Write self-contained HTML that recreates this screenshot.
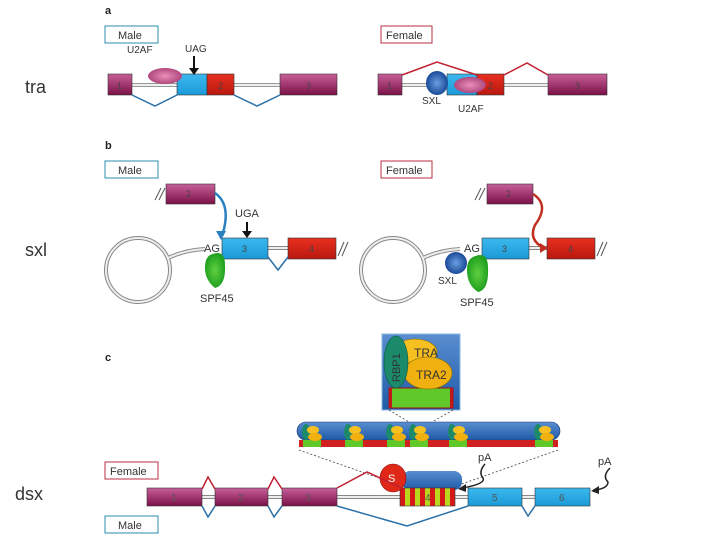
<!DOCTYPE html>
<html><head><style>body{margin:0;background:#fff}svg{display:block;font-family:"Liberation Sans",sans-serif}</style></head><body>
<svg width="720" height="540" viewBox="0 0 720 540">
<defs>
<linearGradient id="pu" x1="0" y1="0" x2="0" y2="1"><stop offset="0" stop-color="#c8609a"/><stop offset="1" stop-color="#7a1046"/></linearGradient>
<linearGradient id="bl" x1="0" y1="0" x2="0" y2="1"><stop offset="0" stop-color="#3cb8ee"/><stop offset="1" stop-color="#1a9ad8"/></linearGradient>
<linearGradient id="rd" x1="0" y1="0" x2="0" y2="1"><stop offset="0" stop-color="#e83020"/><stop offset="1" stop-color="#b81810"/></linearGradient>
<linearGradient id="db" x1="0" y1="0" x2="0" y2="1"><stop offset="0" stop-color="#5a8ed0"/><stop offset="1" stop-color="#1e5aa8"/></linearGradient>
<radialGradient id="sx"><stop offset="0" stop-color="#6a9ee0"/><stop offset="1" stop-color="#1a4a98"/></radialGradient>
<radialGradient id="u2"><stop offset="0" stop-color="#e890b8"/><stop offset="1" stop-color="#b04880"/></radialGradient>
<radialGradient id="gr"><stop offset="0" stop-color="#60d040"/><stop offset="1" stop-color="#20a020"/></radialGradient>
<pattern id="st" width="10" height="18" patternUnits="userSpaceOnUse"><rect width="5" height="18" fill="#d81818"/><rect x="5" width="5" height="18" fill="#b8d820"/></pattern>
</defs>
<g font-size="18" fill="#333"><text x="25" y="93">tra</text><text x="25" y="256">sxl</text><text x="15" y="500">dsx</text></g>
<g font-size="11" font-weight="bold" fill="#222"><text x="105" y="14">a</text><text x="105" y="149">b</text><text x="105" y="361">c</text></g>
<g font-size="11" fill="#333">
<rect x="105" y="26" width="53" height="17" fill="#fff" stroke="#2a8cb0"/><text x="118" y="39">Male</text>
<rect x="381" y="26" width="51" height="17" fill="#fff" stroke="#b83040"/><text x="386" y="39">Female</text>
<rect x="105" y="161" width="53" height="17" fill="#fff" stroke="#2a8cb0"/><text x="118" y="174">Male</text>
<rect x="381" y="161" width="51" height="17" fill="#fff" stroke="#b83040"/><text x="386" y="174">Female</text>
<rect x="105" y="462" width="53" height="17" fill="#fff" stroke="#b83040"/><text x="110" y="475">Female</text>
<rect x="105" y="516" width="53" height="17" fill="#fff" stroke="#2a8cb0"/><text x="118" y="529">Male</text>
</g>
<!-- panel a male -->
<g stroke="#999" stroke-width="4"><line x1="132" y1="85" x2="177" y2="85"/><line x1="234" y1="85" x2="280" y2="85"/><line x1="402" y1="85" x2="548" y2="85"/></g>
<g stroke="#eee" stroke-width="2"><line x1="132" y1="85" x2="177" y2="85"/><line x1="234" y1="85" x2="280" y2="85"/><line x1="402" y1="85" x2="548" y2="85"/></g>
<g stroke="#333" stroke-width="0.6">
<rect x="108" y="74" width="24" height="21" fill="url(#pu)"/><rect x="177" y="74" width="30" height="21" fill="url(#bl)"/><rect x="207" y="74" width="27" height="21" fill="url(#rd)"/><rect x="280" y="74" width="57" height="21" fill="url(#pu)"/>
<rect x="378" y="74" width="24" height="21" fill="url(#pu)"/><rect x="447" y="74" width="30" height="21" fill="url(#bl)"/><rect x="477" y="74" width="27" height="21" fill="url(#rd)"/><rect x="548" y="74" width="59" height="21" fill="url(#pu)"/>
</g>
<g font-size="9" fill="#444"><text x="117" y="89">1</text><text x="218" y="89">2</text><text x="306" y="89">3</text><text x="387" y="89">1</text><text x="488" y="89">2</text><text x="575" y="89">3</text></g>
<polyline points="132,95 155,106 177,95" fill="none" stroke="#2a70a8" stroke-width="1.5"/>
<polyline points="234,95 257,106 280,95" fill="none" stroke="#2a70a8" stroke-width="1.5"/>
<polyline points="402,75 437,62 477,75" fill="none" stroke="#c02030" stroke-width="1.5"/>
<polyline points="504,75 527,63 548,75" fill="none" stroke="#c02030" stroke-width="1.5"/>
<ellipse cx="165" cy="76" rx="17" ry="8" fill="url(#u2)"/>
<ellipse cx="470" cy="85" rx="16" ry="8" fill="url(#u2)"/>
<ellipse cx="437" cy="83" rx="11" ry="12" fill="url(#sx)"/>
<g font-size="10" fill="#333"><text x="127" y="53">U2AF</text><text x="185" y="52">UAG</text><text x="422" y="104">SXL</text><text x="458" y="112">U2AF</text></g>
<line x1="194" y1="56" x2="194" y2="70" stroke="#111" stroke-width="2"/><polygon points="189,68 199,68 194,75" fill="#111"/>
<!-- panel b -->
<g fill="none" stroke="#888" stroke-width="4"><circle cx="138" cy="270" r="32"/><circle cx="393" cy="270" r="32"/><path d="M168,258 Q185,250 205,249"/><path d="M423,258 Q440,250 460,249"/><line x1="268" y1="248" x2="288" y2="248"/><line x1="529" y1="248" x2="547" y2="248"/></g>
<g fill="none" stroke="#eee" stroke-width="2"><circle cx="138" cy="270" r="32"/><circle cx="393" cy="270" r="32"/><path d="M168,258 Q185,250 205,249"/><path d="M423,258 Q440,250 460,249"/><line x1="268" y1="248" x2="288" y2="248"/><line x1="529" y1="248" x2="547" y2="248"/></g>
<g stroke="#333" stroke-width="0.6">
<rect x="166" y="184" width="49" height="20" fill="url(#pu)"/><rect x="222" y="238" width="46" height="21" fill="url(#bl)"/><rect x="288" y="238" width="48" height="21" fill="url(#rd)"/>
<rect x="487" y="184" width="46" height="20" fill="url(#pu)"/><rect x="482" y="238" width="47" height="21" fill="url(#bl)"/><rect x="547" y="238" width="48" height="21" fill="url(#rd)"/>
</g>
<g font-size="9" fill="#444"><text x="186" y="197">2</text><text x="242" y="252">3</text><text x="309" y="252">4</text><text x="506" y="197">2</text><text x="502" y="252">3</text><text x="568" y="252">4</text></g>
<g stroke="#555" stroke-width="1"><line x1="155" y1="200" x2="161" y2="188"/><line x1="159" y1="200" x2="165" y2="188"/><line x1="475" y1="200" x2="481" y2="188"/><line x1="479" y1="200" x2="485" y2="188"/><line x1="338" y1="256" x2="344" y2="242"/><line x1="342" y1="256" x2="348" y2="242"/><line x1="597" y1="256" x2="603" y2="242"/><line x1="601" y1="256" x2="607" y2="242"/></g>
<polyline points="268,257 278,270 288,257" fill="none" stroke="#2a70a8" stroke-width="1.5"/>
<path d="M215,193 Q232,205 222,236" fill="none" stroke="#2a80c0" stroke-width="2.5"/><polygon points="216,231 226,231 221,240" fill="#2a80c0"/>
<path d="M533,194 Q550,205 535,225 Q528,240 544,248" fill="none" stroke="#c03020" stroke-width="2.5"/><polygon points="540,243 548,248 540,253" fill="#c03020"/>
<line x1="247" y1="222" x2="247" y2="233" stroke="#111" stroke-width="2"/><polygon points="242,231 252,231 247,238" fill="#111"/>
<path d="M210,255 Q225,248 225,265 Q226,285 215,288 Q205,280 205,268 Q205,258 210,255Z" fill="url(#gr)"/>
<path d="M473,257 Q488,250 488,268 Q489,290 478,292 Q467,285 467,270 Q467,260 473,257Z" fill="url(#gr)"/>
<ellipse cx="456" cy="263" rx="11" ry="11" fill="url(#sx)"/>
<g font-size="11" fill="#333"><text x="204" y="252">AG</text><text x="464" y="252">AG</text><text x="235" y="217">UGA</text><text x="200" y="302">SPF45</text><text x="460" y="306">SPF45</text><text x="438" y="284" font-size="10">SXL</text></g>
<!-- panel c -->
<rect x="382" y="334" width="78" height="76" fill="url(#db)" stroke="#8ab8e0"/>
<rect x="389" y="388" width="64" height="20" fill="#60c828" stroke="#a01010"/><rect x="389" y="388" width="3" height="20" fill="#c01818"/><rect x="450" y="388" width="3" height="20" fill="#c01818"/>
<ellipse cx="415" cy="352" rx="22" ry="13" fill="#f5c020" stroke="#8a6a00" stroke-width="0.6"/>
<ellipse cx="428" cy="373" rx="24" ry="16" fill="#f0b010" stroke="#8a6a00" stroke-width="0.6"/>
<ellipse cx="396" cy="362" rx="12" ry="26" fill="#1a8a6a" stroke="#0a5a40" stroke-width="0.6"/>
<text x="400" y="382" font-size="11" fill="#333" transform="rotate(-90 400 382)">RBP1</text>
<text x="414" y="357" font-size="12" fill="#333">TRA</text><text x="416" y="379" font-size="12" fill="#333">TRA2</text>
<g stroke="#444" stroke-dasharray="2,2" stroke-width="0.8" fill="none"><line x1="389" y1="410" x2="409" y2="422"/><line x1="453" y1="410" x2="432" y2="422"/><line x1="299" y1="450" x2="402" y2="486"/><line x1="558" y1="450" x2="456" y2="486"/></g>
<rect x="297" y="422" width="263" height="18" rx="9" fill="url(#db)" stroke="#1a3a70" stroke-width="0.6"/>
<rect x="299" y="440" width="259" height="7" fill="#d02020"/>
<g>
<g transform="translate(303,0)"><rect x="0" y="440" width="18" height="7" fill="#60c828"/><ellipse cx="3" cy="432" rx="4" ry="8" fill="#1a8a6a"/><ellipse cx="10" cy="430" rx="6" ry="4" fill="#f5c020"/><ellipse cx="12" cy="437" rx="7" ry="4" fill="#f0b010"/></g>
<g transform="translate(345,0)"><rect x="0" y="440" width="18" height="7" fill="#60c828"/><ellipse cx="3" cy="432" rx="4" ry="8" fill="#1a8a6a"/><ellipse cx="10" cy="430" rx="6" ry="4" fill="#f5c020"/><ellipse cx="12" cy="437" rx="7" ry="4" fill="#f0b010"/></g>
<g transform="translate(387,0)"><rect x="0" y="440" width="18" height="7" fill="#60c828"/><ellipse cx="3" cy="432" rx="4" ry="8" fill="#1a8a6a"/><ellipse cx="10" cy="430" rx="6" ry="4" fill="#f5c020"/><ellipse cx="12" cy="437" rx="7" ry="4" fill="#f0b010"/></g>
<g transform="translate(410,0)"><rect x="0" y="440" width="18" height="7" fill="#60c828"/><ellipse cx="3" cy="432" rx="4" ry="8" fill="#1a8a6a"/><ellipse cx="10" cy="430" rx="6" ry="4" fill="#f5c020"/><ellipse cx="12" cy="437" rx="7" ry="4" fill="#f0b010"/></g>
<g transform="translate(449,0)"><rect x="0" y="440" width="18" height="7" fill="#60c828"/><ellipse cx="3" cy="432" rx="4" ry="8" fill="#1a8a6a"/><ellipse cx="10" cy="430" rx="6" ry="4" fill="#f5c020"/><ellipse cx="12" cy="437" rx="7" ry="4" fill="#f0b010"/></g>
<g transform="translate(535,0)"><rect x="0" y="440" width="18" height="7" fill="#60c828"/><ellipse cx="3" cy="432" rx="4" ry="8" fill="#1a8a6a"/><ellipse cx="10" cy="430" rx="6" ry="4" fill="#f5c020"/><ellipse cx="12" cy="437" rx="7" ry="4" fill="#f0b010"/></g>
</g>
<g stroke="#888" stroke-width="4"><line x1="147" y1="497" x2="590" y2="497"/></g><g stroke="#eee" stroke-width="2"><line x1="147" y1="497" x2="590" y2="497"/></g>
<rect x="402" y="471" width="60" height="19" rx="8" fill="url(#db)"/>
<g stroke="#333" stroke-width="0.6">
<rect x="147" y="488" width="55" height="18" fill="url(#pu)"/><rect x="215" y="488" width="53" height="18" fill="url(#pu)"/><rect x="282" y="488" width="55" height="18" fill="url(#pu)"/>
<rect x="400" y="488" width="55" height="18" fill="url(#st)"/><rect x="468" y="488" width="54" height="18" fill="url(#bl)"/><rect x="535" y="488" width="55" height="18" fill="url(#bl)"/>
</g>
<g font-size="10" fill="#555"><text x="171" y="501">1</text><text x="238" y="501">2</text><text x="305" y="501">3</text><text x="425" y="501">4</text><text x="492" y="501">5</text><text x="559" y="501">6</text></g>
<ellipse cx="393" cy="478" rx="13" ry="14" fill="#e02818" stroke="#901010" stroke-width="0.6"/><text x="388" y="482" font-size="11" fill="#fff">S</text>
<g fill="none" stroke-width="1.5">
<polyline points="202,489 208,477 215,489" stroke="#c02030"/><polyline points="268,489 274,477 282,489" stroke="#c02030"/><polyline points="337,488 367,472 402,488" stroke="#c02030"/>
<polyline points="202,506 208,517 215,506" stroke="#2a70a8"/><polyline points="268,506 274,517 282,506" stroke="#2a70a8"/><polyline points="337,506 407,526 468,506" stroke="#2a70a8"/><polyline points="522,506 528,516 535,506" stroke="#2a70a8"/>
</g>
<g font-size="11" fill="#333"><text x="478" y="461">pA</text><text x="598" y="465">pA</text></g>
<path d="M485,464 Q478,472 483,478 Q486,484 462,488" fill="none" stroke="#222" stroke-width="1.5"/><polygon points="458,489 466,484 466,492" fill="#222"/>
<path d="M610,468 Q602,476 608,482 Q608,488 596,490" fill="none" stroke="#222" stroke-width="1.5"/><polygon points="591,491 599,486 599,494" fill="#222"/>
</svg>
</body></html>
